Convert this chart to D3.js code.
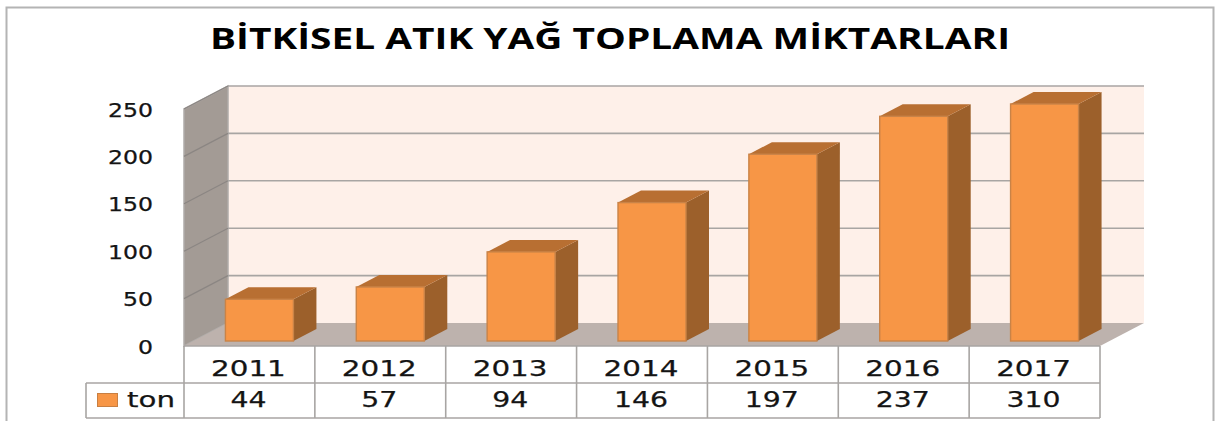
<!DOCTYPE html>
<html>
<head>
<meta charset="utf-8">
<title>Bitkisel atik yag</title>
<script src="https://cdn.jsdelivr.net/npm/d3@7"></script>
<style>
  html, body { margin: 0; padding: 0; background: #fff; }
  svg { display: block; }
  text { font-family: "DejaVu Sans", sans-serif; fill: #141414; stroke: #141414; stroke-width: 0.25px; }
</style>
</head>
<body>
<script>
var years = ["2011", "2012", "2013", "2014", "2015", "2016", "2017"];
var tons = [44, 57, 94, 146, 197, 237, 310];
var yTicks = [0, 50, 100, 150, 200, 250];
var seriesName = "ton";
var chartTitle = "BİTKİSEL ATIK YAĞ TOPLAMA MİKTARLARI";

var width = 1215,
  height = 421;

// front edge of the 3d box
var plot = { left: 184, right: 1100, top: 109, bottom: 346 };
var wallDx = 44, wallDy = -23;   // depth of the box
var barDx = 23, barDy = -12;     // depth of a bar
var barInX = 10, barInY = -5;    // bars stand a bit inside the floor
var barWidth = 68;

var gridColor = "#a8a5a3";

var svg = d3.select("body")
  .append("svg")
  .attr("width", width)
  .attr("height", height);

// outer frame, no bottom edge in the picture
svg.append("path")
  .attr("d", "M6.5," + height + "V7.5H1213.5V" + height)
  .attr("fill", "none")
  .attr("stroke", "#b4b4b4")
  .attr("stroke-width", 2);

svg.append("text")
  .attr("x", 210)
  .attr("y", 49)
  .attr("textLength", 800)
  .attr("lengthAdjust", "spacingAndGlyphs")
  .style("font-family", "'Open Sans', sans-serif")
  .style("font-weight", 700)
  .style("font-size", "29px")
  .style("fill", "#000")
  .style("stroke", "none")
  .text(chartTitle);

// scales
var yScale = d3.scaleLinear()
  .domain([0, 250])
  .range([plot.bottom, plot.top])
  .clamp(true);  // 310 is cut off at the axis max

var xScale = d3.scaleBand()
  .domain(years)
  .range([plot.left, plot.right]);

function poly(points) {
  return points.map(function(p) { return p.join(","); }).join(" ");
}

// walls and floor
var backLeft = plot.left + wallDx,
  backRight = plot.right + wallDx,
  backTop = plot.top + wallDy,
  backBottom = plot.bottom + wallDy;

svg.append("rect")
  .attr("x", backLeft)
  .attr("y", backTop)
  .attr("width", backRight - backLeft)
  .attr("height", backBottom - backTop)
  .attr("fill", "#fef0e9");

svg.append("polygon")
  .attr("points", poly([[plot.left, plot.top], [backLeft, backTop], [backLeft, backBottom], [plot.left, plot.bottom]]))
  .attr("fill", "#a39b95")
  .attr("stroke", "#b0aca9")
  .attr("stroke-width", 1.5);

svg.append("polygon")
  .attr("points", poly([[plot.left, plot.bottom], [backLeft, backBottom], [backRight, backBottom], [plot.right, plot.bottom]]))
  .attr("fill", "#bdb2ad");

// gridlines, side wall part and back wall part
var grid = svg.selectAll(".grid")
  .data(yTicks.filter(function(d) { return d > 0; }))
  .enter()
  .append("g")
  .attr("class", "grid");

grid.append("line")
  .attr("x1", plot.left)
  .attr("y1", function(d) { return yScale(d); })
  .attr("x2", backLeft)
  .attr("y2", function(d) { return yScale(d) + wallDy; })
  .attr("stroke", "#8b8683")
  .attr("stroke-width", 1.2);

grid.append("line")
  .attr("x1", backLeft)
  .attr("y1", function(d) { return yScale(d) + wallDy; })
  .attr("x2", backRight)
  .attr("y2", function(d) { return yScale(d) + wallDy; })
  .attr("stroke", gridColor)
  .attr("stroke-width", 1.6);

// y axis
var yAxis = svg.append("g")
  .attr("transform", "translate(153,0)")
  .call(d3.axisLeft(yScale).tickValues(yTicks).tickSize(0).tickPadding(0));

yAxis.select(".domain").remove();

yAxis.selectAll("text")
  .attr("x", 0)
  .attr("dy", null)
  .attr("y", 7)
  .attr("textLength", function(d) { return String(d).length * 15; })
  .attr("lengthAdjust", "spacingAndGlyphs")
  .style("font-family", "'DejaVu Sans', sans-serif")
  .style("font-size", "19px");

// bars
var bars = svg.selectAll(".bar")
  .data(years)
  .enter()
  .append("g")
  .attr("class", "bar")
  .attr("transform", function(d) {
    var x = xScale(d) + (xScale.bandwidth() - barWidth) / 2 + barInX;
    return "translate(" + x + "," + barInY + ")";
  });

function barTop(i) {
  return yScale(tons[i]);
}

bars.append("polygon")
  .attr("points", function(d, i) {
    var t = barTop(i);
    return poly([[barWidth, t], [barWidth + barDx, t + barDy], [barWidth + barDx, plot.bottom + barDy], [barWidth, plot.bottom]]);
  })
  .attr("fill", "#9c602b");

bars.append("polygon")
  .attr("points", function(d, i) {
    var t = barTop(i);
    return poly([[0, t], [barDx, t + barDy], [barWidth + barDx, t + barDy], [barWidth, t]]);
  })
  .attr("fill", "#b86f32");

bars.append("rect")
  .attr("x", 0)
  .attr("y", function(d, i) { return barTop(i); })
  .attr("width", barWidth)
  .attr("height", function(d, i) { return plot.bottom - barTop(i); })
  .attr("fill", "#f79646")
  .attr("stroke", "#c98347")
  .attr("stroke-width", 1.4);

// data table
var tableMid = 383, tableBottom = 418, legendLeft = 86;

var tableLines = [
  [plot.left, plot.bottom, plot.left, tableBottom],
  [plot.right, plot.bottom, plot.right, tableBottom],
  [legendLeft, tableMid, plot.right, tableMid],
  [legendLeft, tableBottom, plot.right, tableBottom],
  [legendLeft, tableMid, legendLeft, tableBottom],
  [plot.left, plot.bottom, plot.right, plot.bottom]
];
years.slice(1).forEach(function(d) {
  tableLines.push([xScale(d), plot.bottom, xScale(d), tableBottom]);
});

svg.selectAll(".table-line")
  .data(tableLines)
  .enter()
  .append("line")
  .attr("class", "table-line")
  .attr("x1", function(d) { return d[0]; })
  .attr("y1", function(d) { return d[1]; })
  .attr("x2", function(d) { return d[2]; })
  .attr("y2", function(d) { return d[3]; })
  .attr("stroke", gridColor)
  .attr("stroke-width", 1.6);

function cellText(sel, y, perChar) {
  sel.enter()
    .append("text")
    .attr("x", function(d, i) { return xScale(years[i]) + xScale.bandwidth() / 2 - 1; })
    .attr("y", y)
    .attr("text-anchor", "middle")
    .attr("textLength", function(d) { return String(d).length * perChar; })
    .attr("lengthAdjust", "spacingAndGlyphs")
    .style("font-size", "22px")
    .text(function(d) { return d; });
}

cellText(svg.selectAll(".year").data(years), 376, 18.7);
cellText(svg.selectAll(".val").data(tons), 407, 18);

// legend key
svg.append("rect")
  .attr("x", 97.5)
  .attr("y", 393.5)
  .attr("width", 20)
  .attr("height", 13)
  .attr("fill", "#f79646")
  .attr("stroke", "#c87f42");

svg.append("text")
  .attr("x", 127)
  .attr("y", 407)
  .attr("textLength", 48)
  .attr("lengthAdjust", "spacingAndGlyphs")
  .style("font-size", "22px")
  .text(seriesName);
</script>
</body>
</html>
